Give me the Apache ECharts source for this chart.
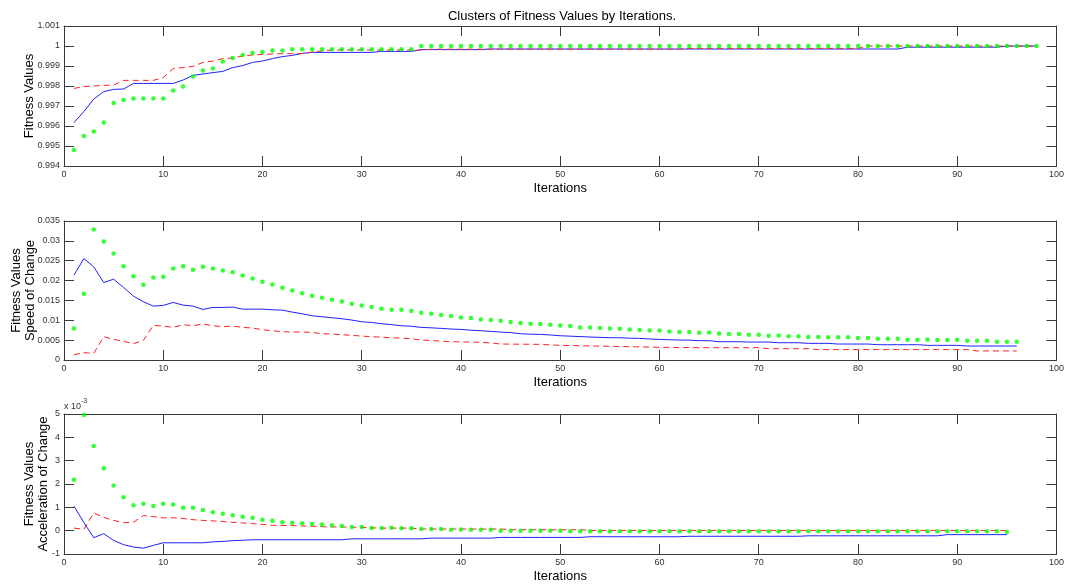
<!DOCTYPE html>
<html>
<head>
<meta charset="utf-8">
<title>Clusters of Fitness Values by Iterations</title>
<script src="https://cdn.jsdelivr.net/npm/echarts@6/dist/echarts.min.js"></script>
<style>
  html, body { margin: 0; padding: 0; background: #fff; overflow: hidden; }
  #main { width: 1067px; height: 585px; }
</style>
</head>
<body>
<div id="main"></div>
<script>
// ---- data ----
var titleText = 'Clusters of Fitness Values by Iterations.';
var xName = 'Iterations';
var yNames = ['Fitness Values', 'Fitness Values\nSpeed of Change', 'Fitness Values\nAcceleration of Change'];

// panel 1: fitness values (x = 1..98)
var fitBlue = [
  0.99617,0.99672,0.99735,0.99772,0.99783,0.99785,0.99813,0.99813,0.99813,0.99813,
  0.99813,0.9983,0.99853,0.9986,0.99867,0.99873,0.99892,0.99902,0.99918,0.99925,
  0.99937,0.99947,0.99953,0.99963,0.99968,0.99968,0.99968,0.99968,0.99968,0.99968,
  0.99968,0.99973,0.99973,0.99973,0.99973,0.99982,0.99982,0.99982,0.99982,0.99982,
  0.99982,0.99982,0.99985,0.99985,0.99985,0.99985,0.99985,0.99985,0.99985,0.99985,
  0.99985,0.99985,0.99985,0.99985,0.99985,0.99985,0.99985,0.99985,0.99985,0.99985,
  0.99985,0.99985,0.99985,0.99985,0.99985,0.99985,0.99985,0.99985,0.99985,0.99985,
  0.99985,0.99985,0.99985,0.99985,0.99985,0.99985,0.99985,0.99985,0.99985,0.99985,
  0.99985,0.99985,0.99985,0.99985,0.99994,0.99994,0.99994,0.99994,0.99994,0.99994,
  0.99994,0.99994,0.99994,0.99994,1,1,1,1
];
var fitRed = [
  0.99788,0.99797,0.998,0.99803,0.99805,0.99828,0.99828,0.99828,0.99828,0.99842,
  0.99887,0.99892,0.99898,0.99918,0.99925,0.99937,0.9994,0.9995,0.99955,0.99958,
  0.9996,0.99962,0.99962,0.99962,0.9997,0.99975,0.9998,0.9998,0.9998,0.9998,
  0.9998,0.9998,0.9998,0.9998,0.9998,0.9998,0.99984,0.99984,0.99984,0.99984,
  0.99984,0.99984,0.99984,0.99984,0.99984,0.99984,0.99984,0.99984,0.99984,0.99984,
  0.99984,0.99984,0.99984,0.99984,0.99984,0.99984,0.99984,0.99984,0.99984,0.99984,
  0.99984,0.99984,0.99988,0.99988,0.99988,0.99988,0.99988,0.99988,0.99988,0.99988,
  0.99988,0.99988,0.99988,0.99988,0.99988,0.99988,0.99988,0.99988,0.99988,0.99988,
  1,1,1,1,1,1,1,1,1,1,
  1,1,1,1,1,1,1,1
];
var fitGreen = [
  0.9948,0.9955,0.99573,0.99618,0.99715,0.9973,0.99738,0.99738,0.99738,0.99738,
  0.99777,0.99798,0.99848,0.99877,0.99887,0.99923,0.9994,0.99955,0.99965,0.9997,
  0.99977,0.99977,0.99984,0.99984,0.99984,0.99984,0.99984,0.99984,0.99984,0.99984,
  0.99984,0.99984,0.99984,0.99984,0.99984,1,1,1,1,1,
  1,1,1,1,1,1,1,1,1,1,
  1,1,1,1,1,1,1,1,1,1,
  1,1,1,1,1,1,1,1,1,1,
  1,1,1,1,1,1,1,1,1,1,
  1,1,1,1,1,1,1,1,1,1,
  1,1,1,1,1,1,1,1
];

// panel 2: speed of change (x = 1..96)
var speedBlue = [
  0.02136,0.02554,0.02345,0.01951,0.02035,0.01826,0.01608,0.01466,0.01357,0.01374,
  0.01449,0.01382,0.01357,0.01273,0.01323,0.01323,0.01332,0.01281,0.01281,0.01281,
  0.01265,0.01256,0.01206,0.01164,0.01114,0.01089,0.01064,0.01039,0.01005,0.00963,
  0.00945,0.00913,0.0089,0.00863,0.0085,0.00821,0.0081,0.00796,0.0078,0.0077,
  0.0075,0.00737,0.0072,0.00703,0.0069,0.00661,0.0065,0.00645,0.0063,0.00611,
  0.006,0.0059,0.00578,0.0057,0.00561,0.0056,0.0055,0.00544,0.0053,0.00519,
  0.0051,0.00503,0.005,0.00486,0.00486,0.0046,0.0046,0.0046,0.00452,0.00452,
  0.00452,0.00435,0.00435,0.00435,0.00419,0.00419,0.00419,0.00402,0.00402,0.00402,
  0.00402,0.00385,0.00385,0.00385,0.00385,0.00385,0.00369,0.00369,0.00369,0.00369,
  0.00352,0.00352,0.00352,0.00352,0.00352,0.00352
];
var speedRed = [
  0.00134,0.00184,0.00168,0.00586,0.00519,0.00469,0.0041,0.00494,0.00871,0.00854,
  0.00821,0.00888,0.00863,0.00905,0.00863,0.00838,0.00854,0.00821,0.00804,0.00762,
  0.00737,0.00712,0.00704,0.00704,0.00695,0.00662,0.00653,0.00637,0.0062,0.00603,
  0.00586,0.00575,0.00561,0.0055,0.00536,0.00503,0.0049,0.00475,0.00461,0.00455,
  0.0045,0.00444,0.0043,0.00402,0.004,0.00398,0.00396,0.00394,0.0038,0.00369,
  0.00365,0.0036,0.00352,0.0035,0.00345,0.0034,0.00335,0.0033,0.00325,0.0032,
  0.00318,0.00315,0.00312,0.0031,0.0031,0.0031,0.0031,0.0031,0.0031,0.0031,
  0.00285,0.00285,0.00285,0.00285,0.00285,0.00262,0.00262,0.00262,0.00262,0.00262,
  0.00262,0.00262,0.00262,0.00262,0.00262,0.00262,0.00262,0.00262,0.00262,0.00262,
  0.00262,0.00228,0.00228,0.00228,0.00228,0.00228
];
var speedGreen = [
  0.00796,0.01667,0.03283,0.02982,0.0268,0.02362,0.0211,0.01893,0.02077,0.02094,
  0.02303,0.02362,0.0227,0.02345,0.02303,0.02253,0.02211,0.02127,0.02052,0.01968,
  0.01901,0.01817,0.0175,0.01683,0.01616,0.01566,0.01516,0.01474,0.01415,0.01374,
  0.01332,0.0129,0.01264,0.01264,0.01231,0.01189,0.01164,0.01131,0.01105,0.01072,
  0.01055,0.01022,0.01005,0.00988,0.00955,0.0093,0.00913,0.00905,0.00888,0.00871,
  0.00854,0.00821,0.00821,0.00804,0.00796,0.00787,0.0077,0.00754,0.00745,0.00745,
  0.0072,0.00703,0.00703,0.00687,0.00695,0.0067,0.00653,0.00653,0.00637,0.00637,
  0.00611,0.0062,0.00595,0.00595,0.00578,0.00578,0.0057,0.0057,0.0057,0.00553,
  0.00553,0.00536,0.00536,0.00536,0.00511,0.00511,0.00519,0.00503,0.00503,0.00511,
  0.00486,0.00486,0.00486,0.00461,0.00461,0.00461
];

// panel 3: acceleration of change, in units of 1e-3 (x = 1..95)
var accBlue = [
  1.05,0.35,-0.30,-0.13,-0.42,-0.60,-0.70,-0.75,-0.63,-0.52,
  -0.52,-0.52,-0.52,-0.52,-0.48,-0.46,-0.43,-0.41,-0.39,-0.39,
  -0.39,-0.39,-0.39,-0.39,-0.39,-0.39,-0.39,-0.39,-0.35,-0.35,
  -0.35,-0.35,-0.35,-0.35,-0.35,-0.35,-0.32,-0.32,-0.32,-0.32,
  -0.32,-0.32,-0.32,-0.29,-0.29,-0.29,-0.29,-0.29,-0.29,-0.29,
  -0.29,-0.29,-0.26,-0.26,-0.26,-0.26,-0.26,-0.26,-0.26,-0.26,
  -0.26,-0.26,-0.24,-0.24,-0.24,-0.24,-0.24,-0.24,-0.24,-0.24,
  -0.24,-0.24,-0.24,-0.24,-0.22,-0.22,-0.22,-0.22,-0.22,-0.22,
  -0.22,-0.22,-0.22,-0.22,-0.22,-0.22,-0.22,-0.22,-0.17,-0.17,
  -0.17,-0.17,-0.17,-0.17,-0.17
];
var accRed = [
  0.11,0.06,0.76,0.57,0.44,0.34,0.36,0.65,0.60,0.55,
  0.55,0.52,0.47,0.44,0.42,0.39,0.36,0.33,0.30,0.27,
  0.23,0.22,0.22,0.20,0.19,0.17,0.16,0.16,0.15,0.14,
  0.12,0.11,0.11,0.11,0.11,0.07,0.07,0.07,0.07,0.07,
  0.07,0.07,0.07,0.07,0.04,0.04,0.04,0.04,0.04,0.04,
  0.04,0.04,0.01,0.01,0.01,0.01,0.01,0.01,0.01,0.01,
  0.01,0.01,0.01,0.01,0.01,0.01,0.01,0.01,0.01,0.01,
  0.01,0.01,0.01,0.01,0.01,0.01,0.01,0.01,0.01,0.01,
  0.01,0.01,0.01,0.01,0.01,0.01,0.01,0.01,0.01,0.01,
  0.01,0.01,0.01,0.01,0.01
];
var accGreen = [
  2.18,4.96,3.63,2.68,1.94,1.43,1.09,1.15,1.06,1.15,
  1.12,0.98,0.98,0.89,0.79,0.73,0.66,0.60,0.55,0.47,
  0.42,0.36,0.34,0.32,0.29,0.26,0.23,0.20,0.16,0.16,
  0.11,0.11,0.12,0.10,0.10,0.07,0.07,0.07,0.04,0.05,
  0.04,0.04,0.04,0,0,0,0,0,0,0,
  -0.03,-0.03,-0.03,-0.03,-0.03,-0.03,-0.03,-0.03,-0.03,-0.03,
  -0.03,-0.03,-0.03,-0.03,-0.03,-0.03,-0.03,-0.03,-0.03,-0.03,
  -0.03,-0.03,-0.03,-0.03,-0.03,-0.03,-0.03,-0.03,-0.03,-0.03,
  -0.03,-0.03,-0.03,-0.03,-0.03,-0.03,-0.03,-0.03,-0.03,-0.03,
  -0.03,-0.03,-0.03,-0.03,-0.06
];

// y axis ranges per panel: [min, max, interval]
var yRanges = [[0.994, 1.001, 0.001], [0, 0.035, 0.005], [-1, 5, 1]];
var xRange = [0, 100, 10];

var panels = [
  [fitBlue, fitRed, fitGreen],
  [speedBlue, speedRed, speedGreen],
  [accBlue, accRed, accGreen]
];

// ---- chart ----
var font = "'Liberation Sans', Arial, sans-serif";
var axisColor = '#3a3a3a';
var gridTops = [26, 221, 414];
var gridHeights = [140, 139, 140];
var yNameX = [29, 23, 36];

function toPairs(arr) {
    return arr.map(function (v, i) { return [i + 1, v]; });
}

var dom = document.getElementById('main');
var chart = echarts.init(dom, null, { renderer: 'canvas', width: 1067, height: 585 });

var grids = [], xAxes = [], yAxes = [], series = [], graphics = [];

for (var p = 0; p < 3; p++) {
    grids.push({ left: 64, width: 996, top: gridTops[p], height: gridHeights[p], containLabel: false });

    var tickStyle = { show: true, inside: true, length: 10, lineStyle: { color: axisColor, width: 1 } };
    var lineStyle = { show: true, onZero: false, lineStyle: { color: axisColor, width: 1 } };

    // bottom x axis (with labels) and top x axis (ticks only)
    xAxes.push({
        type: 'value', gridIndex: p, position: 'bottom',
        min: xRange[0], max: xRange[1], interval: xRange[2],
        axisLine: lineStyle, axisTick: tickStyle, splitLine: { show: false },
        axisLabel: { color: '#333', fontSize: 9, fontFamily: font, margin: 4 },
        name: xName, nameLocation: 'middle', nameGap: 16,
        nameTextStyle: { color: '#000', fontSize: 13, fontFamily: font }
    });
    xAxes.push({
        type: 'value', gridIndex: p, position: 'top',
        min: xRange[0], max: xRange[1], interval: xRange[2],
        axisLine: lineStyle, axisTick: tickStyle, splitLine: { show: false },
        axisLabel: { show: false }
    });

    var yr = yRanges[p];
    yAxes.push({
        type: 'value', gridIndex: p, position: 'left',
        min: yr[0], max: yr[1], interval: yr[2],
        axisLine: lineStyle, axisTick: tickStyle, splitLine: { show: false },
        axisLabel: { color: '#333', fontSize: 9, fontFamily: font, margin: 4 }
    });
    yAxes.push({
        type: 'value', gridIndex: p, position: 'right',
        min: yr[0], max: yr[1], interval: yr[2],
        axisLine: lineStyle, axisTick: tickStyle, splitLine: { show: false },
        axisLabel: { show: false }
    });

    var d = panels[p];
    series.push({
        type: 'line', xAxisIndex: p * 2, yAxisIndex: p * 2,
        data: toPairs(d[0]), showSymbol: false, symbol: 'none',
        lineStyle: { color: '#2020ff', width: 1 }, z: 2
    });
    series.push({
        type: 'line', xAxisIndex: p * 2, yAxisIndex: p * 2,
        data: toPairs(d[1]), showSymbol: false, symbol: 'none',
        lineStyle: { color: '#ff2020', width: 1, type: [6, 4] }, z: 3
    });
    series.push({
        type: 'scatter', xAxisIndex: p * 2, yAxisIndex: p * 2,
        data: toPairs(d[2]), symbol: 'circle', symbolSize: 4.5,
        itemStyle: { color: '#00ff00' }, z: 4
    });

    // rotated y axis names
    graphics.push({
        type: 'text', x: yNameX[p], y: gridTops[p] + gridHeights[p] / 2, rotation: Math.PI / 2,
        style: {
            text: yNames[p], fill: '#000', font: '13px ' + font,
            textAlign: 'center', textVerticalAlign: 'middle', lineHeight: 14
        }
    });
}

graphics.push({
    type: 'text', x: 562, y: 16,
    style: { text: titleText, fill: '#000', font: '13px ' + font, textAlign: 'center', textVerticalAlign: 'middle' }
});
// exponent marker for the bottom panel
graphics.push({
    type: 'text', x: 64, y: 407,
    style: { text: 'x 10', fill: '#333', font: '9px ' + font, textAlign: 'left', textVerticalAlign: 'middle' }
});
graphics.push({
    type: 'text', x: 81, y: 401,
    style: { text: '-3', fill: '#333', font: '7px ' + font, textAlign: 'left', textVerticalAlign: 'middle' }
});

var option = {
    animation: false,
    backgroundColor: '#fff',
    grid: grids,
    xAxis: xAxes,
    yAxis: yAxes,
    series: series,
    graphic: graphics
};

chart.setOption(option);
window.onresize = chart.resize;
</script>
</body>
</html>
